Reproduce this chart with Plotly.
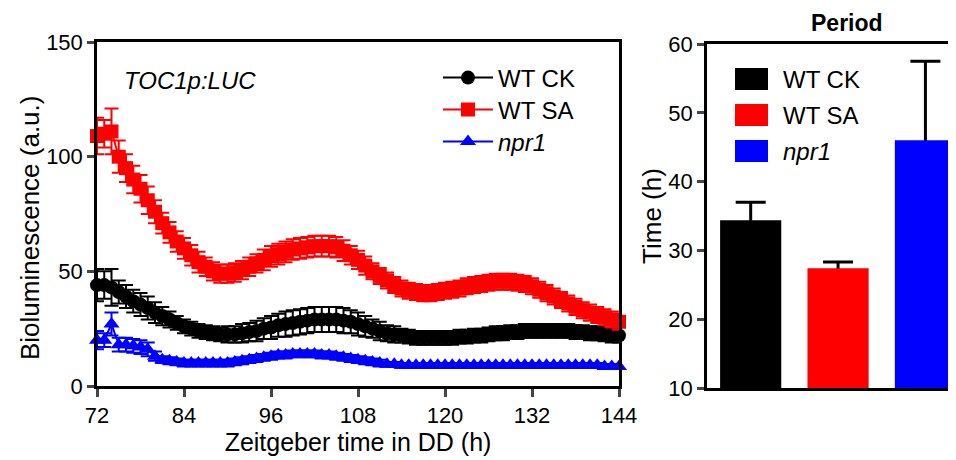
import plotly.graph_objects as go

# ---------------- data ----------------
time_h = list(range(72, 145))

wt_ck = [44, 44, 43, 41, 39, 37, 35.5, 34, 32, 30.5, 29, 27.5, 26, 25, 24, 23.5, 23, 22.5, 22.5, 22.5,
         23, 23.5, 24, 25, 25.5, 26.5, 27, 27.5, 28, 28.5, 29, 29, 29, 29, 28.5, 28, 27, 26, 25, 24,
         23, 22.5, 22, 21.5, 21, 21, 21, 21, 21, 21, 21.5, 21.5, 22, 22, 22.5, 23, 23, 23.5, 23.5, 24,
         24, 24, 24, 24, 24, 24, 23.5, 23.5, 23, 23, 22.5, 22, 22]
wt_ck_err = [7, 6, 8, 5, 5, 5, 5, 5, 4.5, 4, 3.5, 3, 3, 3, 3, 3, 3, 3, 3.5, 3.5,
             4, 4, 4.5, 4.5, 5, 5, 5.5, 5.5, 5.5, 5.5, 5.5, 5.5, 5.5, 5.5, 5.5, 5, 5, 4.5, 4, 4,
             3.5, 3.5, 3, 3, 3, 3, 3, 3, 3, 3, 3, 3, 3, 3, 3, 3, 3, 3, 3, 3,
             3, 3, 3, 3, 3, 3, 3, 3, 3, 3, 3, 3, 3]

wt_sa = [109, 110, 111, 100, 95, 90, 86, 81, 76, 71, 67, 63, 60, 57, 54, 52, 50, 49, 49, 49.5,
         50.5, 52, 53.5, 55, 56.5, 57.5, 58.5, 59.5, 60, 60.5, 61, 61, 61, 60.5, 59, 57, 55, 52.5, 50, 48,
         46, 44, 42.5, 41.5, 41, 40.5, 40.5, 41, 41.5, 42, 42.5, 43.5, 44, 44.5, 45, 45.5, 45.5, 45.5, 45, 44.5,
         43.5, 42, 40.5, 39, 37.5, 36, 34.5, 33, 32, 31, 30, 29, 28]
wt_sa_err = [8, 6, 10, 7, 6, 6, 6, 6, 5, 4.5, 4.5, 4.5, 4.5, 4.5, 4.5, 4, 4, 4, 4, 4,
             4, 4, 4, 4.5, 4.5, 4.5, 4.5, 4.5, 4.5, 4.5, 4.5, 4.5, 4.5, 4.5, 4.5, 4, 4, 4, 3.5, 3.5,
             3.5, 3.5, 3.5, 3.5, 3.5, 3.5, 3.5, 3.5, 3.5, 3.5, 3.5, 3.5, 3.5, 3.5, 3.5, 3.5, 3.5, 3.5, 3.5, 3.5,
             3.5, 3.5, 3.5, 3.5, 3.5, 3.5, 3.5, 3.5, 3.5, 3.5, 3.5, 3.5, 3.5]

npr1 = [20, 20, 27, 18, 18, 17.5, 17, 16, 13, 11.5, 11, 10.5, 10, 10, 10, 10, 10, 10, 10, 10.5,
        11, 11.5, 12, 12.5, 13, 13.5, 13.5, 14, 14, 14, 14, 13.5, 13.5, 13, 12.5, 12, 11.5, 11, 10.5, 10,
        9.5, 9.5, 9, 9, 9, 9, 9, 9, 9, 9, 9, 9, 9, 9, 9, 9, 9, 9, 9, 9,
        9, 9, 9, 9, 9, 9, 9, 9, 9, 9, 8.5, 8.5, 8.5]
npr1_err = [4, 3, 5, 3, 3, 3, 3, 3, 2, 1.5, 1.5, 1.5, 1.5, 1.5, 1.5, 1.5, 1.5, 1.5, 1.5, 1.5,
            1.5, 1.5, 1.5, 1.5, 1.5, 1.5, 1.5, 1.5, 1.5, 1.5, 1.5, 1.5, 1.5, 1.5, 1.5, 1.5, 1.5, 1.5, 1.5, 1.5,
            1, 1, 1, 1, 1, 1, 1, 1, 1, 1, 1, 1, 1, 1, 1, 1, 1, 1, 1, 1,
            1, 1, 1, 1, 1, 1, 1, 1, 1, 1, 1, 1, 1]

genotypes = ["WT CK", "WT SA", "npr1"]
period_mean = [34.4, 27.4, 46.0]
period_err = [2.6, 0.9, 11.5]

x_ticks = [72, 84, 96, 108, 120, 132, 144]
y_ticks_left = [0, 50, 100, 150]
y_ticks_right = [10, 20, 30, 40, 50, 60]

# ---------------- styles ----------------
FONT = "Arial, Liberation Sans, sans-serif"
W, H = 956, 460
OFF = 8  # page body margin: figure is drawn 8px right/down in the window
colors = ["#000000", "#ff0000", "#0000ff"]
symbols = ["circle", "square", "triangle-up"]
legend_names = ["WT CK", "WT SA", "<i>npr1</i>"]
legend_ids = ["legend", "legend2", "legend3"]
legend_rows = [78, 110, 142]


def px_x(p):
    return (p - OFF) / W


def px_y(p):
    return 1 - (p - OFF) / H


fig = go.Figure()

series = [(wt_ck, wt_ck_err), (wt_sa, wt_sa_err), (npr1, npr1_err)]
for (vals, errs), c, s, n, lg in zip(series, colors, symbols, legend_names, legend_ids):
    fig.add_trace(go.Scatter(
        x=time_h, y=vals, name=n, mode="lines+markers",
        line=dict(color=c, width=2),
        marker=dict(color=c, symbol=s, size=14),
        error_y=dict(type="data", array=errs, color=c, thickness=2, width=7),
        cliponaxis=False, xaxis="x", yaxis="y", legend=lg,
    ))

# error bars for the period bars (drawn under the bars so only the upper half shows)
fig.add_trace(go.Scatter(
    x=genotypes, y=period_mean, mode="markers", marker=dict(size=1, color="rgba(0,0,0,0)"),
    showlegend=False, xaxis="x2", yaxis="y2", hoverinfo="skip",
    error_y=dict(type="data", array=period_err, color="#000000", thickness=3, width=15),
))
fig.add_trace(go.Bar(
    x=genotypes, y=period_mean, marker=dict(color=colors, line=dict(width=0)),
    width=0.7, showlegend=False, xaxis="x3", yaxis="y3",
))

axis_common = dict(showline=True, linecolor="black", linewidth=2.5, showgrid=False, zeroline=False,
                   automargin=False, tickfont=dict(family=FONT, size=22, color="black"))

right_x_dom = [px_x(707), px_x(956)]
right_y_dom = [px_y(388), px_y(44)]
right_x_range = [-0.5, 2.35]

legend_style = dict(xanchor="left", yanchor="middle", bgcolor="rgba(0,0,0,0)",
                    font=dict(family=FONT, size=24, color="black"), itemwidth=50)

fig.update_layout(
    width=W, height=H, margin=dict(l=0, r=0, t=0, b=0, autoexpand=False),
    plot_bgcolor="white", paper_bgcolor="white",
    font=dict(family=FONT, color="black"),
    xaxis=dict(domain=[px_x(97), px_x(619)], range=[72, 144], tickvals=x_ticks,
               ticks="outside", ticklen=8, tickwidth=2.5, mirror=True,
               title=dict(text="Zeitgeber time in DD (h)", font=dict(family=FONT, size=25), standoff=2),
               anchor="y", **axis_common),
    yaxis=dict(domain=[px_y(386), px_y(42)], range=[0, 150], tickvals=y_ticks_left,
               ticks="outside", ticklen=7, tickwidth=2.5, mirror=True,
               anchor="x", **axis_common),
    # hidden base subplot holding the error bars
    xaxis2=dict(domain=right_x_dom, range=right_x_range, type="category", visible=False,
                anchor="y2", automargin=False),
    yaxis2=dict(domain=right_y_dom, range=[10, 60], visible=False, anchor="x2", automargin=False),
    # overlay subplot holding the bars and visible axes
    xaxis3=dict(domain=right_x_dom, range=right_x_range, type="category", overlaying="x2",
                showticklabels=False, ticks="", mirror=True, anchor="y3", **axis_common),
    yaxis3=dict(domain=right_y_dom, range=[10, 60], tickvals=y_ticks_right, overlaying="y2",
                ticks="outside", ticklen=7, tickwidth=2.5, mirror=False, side="left",
                title=dict(text="Time (h)", font=dict(family=FONT, size=26), standoff=0),
                anchor="x3", **axis_common),
    legend=dict(x=px_x(438), y=px_y(legend_rows[0]), **legend_style),
    legend2=dict(x=px_x(438), y=px_y(legend_rows[1]), **legend_style),
    legend3=dict(x=px_x(438), y=px_y(legend_rows[2]), **legend_style),
)

# y axis title of the left panel
fig.add_annotation(text="Bioluminescence (a.u.)", xref="paper", yref="paper", textangle=-90,
                   x=px_x(30), y=px_y(228), xanchor="center", yanchor="middle", showarrow=False,
                   font=dict(family=FONT, size=26, color="black"))
# italic construct label
fig.add_annotation(text="<i>TOC1p:LUC</i>", xref="paper", yref="paper",
                   x=px_x(122), y=px_y(80), xanchor="left", yanchor="middle", showarrow=False,
                   font=dict(family=FONT, size=24, color="black"))
# period title
fig.add_annotation(text="<b>Period</b>", xref="paper", yref="paper", borderpad=0,
                   x=px_x(847), y=px_y(23), xanchor="center", yanchor="middle", showarrow=False,
                   font=dict(family=FONT, size=23, color="black"))

# right legend (boxes + labels)
leg_y = [79, 115, 151]
for yy, c, n in zip(leg_y, colors, legend_names):
    fig.add_shape(type="rect", xref="paper", yref="paper",
                  x0=px_x(735), x1=px_x(768), y0=px_y(yy + 11), y1=px_y(yy - 11),
                  fillcolor=c, line=dict(width=0))
    fig.add_annotation(text=n, xref="paper", yref="paper", x=px_x(781), y=px_y(yy),
                       xanchor="left", yanchor="middle", showarrow=False,
                       font=dict(family=FONT, size=24, color="black"))

fig.write_html("out.html")
